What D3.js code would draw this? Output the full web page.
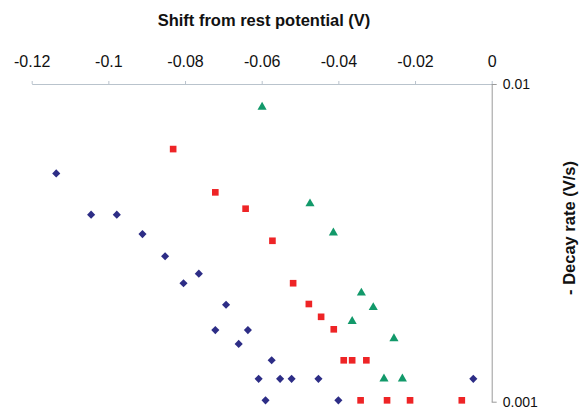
<!DOCTYPE html>
<html><head><meta charset="utf-8">
<script src="https://cdn.jsdelivr.net/npm/d3@7"></script>
<style>body{margin:0;background:#fff}svg{display:block}</style>
</head><body><svg id="c" width="581" height="409"></svg>
<script>
// Series: [shift (V), -decay rate (V/s)]
const blueX = [-0.1136,-0.1045,-0.0978,-0.0911,-0.0852,-0.0764,-0.0804,-0.0693,-0.0721,-0.0636,-0.0660,-0.0574,-0.0608,-0.0552,-0.0522,-0.0452,-0.0590,-0.0400,-0.0048];
const blueY = [0.00523,0.00388,0.00388,0.00337,0.00287,0.00253,0.00236,0.00202,0.00168,0.00168,0.00152,0.00135,0.00118,0.00118,0.00118,0.00118,0.00101,0.00101,0.00118];
const redX = [-0.0831,-0.0721,-0.0642,-0.0572,-0.0518,-0.0477,-0.0445,-0.0412,-0.0386,-0.0364,-0.0327,-0.0342,-0.0273,-0.0213,-0.0078];
const redY = [0.00624,0.00456,0.00405,0.00321,0.00236,0.00203,0.00185,0.00169,0.00135,0.00135,0.00135,0.00101,0.00101,0.00101,0.00101];
const greenX = [-0.0599,-0.0474,-0.0413,-0.0340,-0.0309,-0.0364,-0.0255,-0.0281,-0.0233];
const greenY = [0.00846,0.00420,0.00340,0.00220,0.00198,0.00179,0.00158,0.00118,0.00118];
const xTicks = [-0.12,-0.1,-0.08,-0.06,-0.04,-0.02,0];
const yTicks = [0.01,0.001];
const xTitle = "Shift from rest potential (V)";
const yTitle = "- Decay rate (V/s)";

const FONT = "Liberation Sans, Arial, sans-serif";
const svg = d3.select("#c");
const x = d3.scaleLinear().domain([-0.12,0]).range([31.7,491.7]);
const y = d3.scaleLog().domain([0.001,0.01]).range([401.7,84]);

// x axis on top
const xa = svg.append("g").attr("transform","translate(0,84)")
  .call(d3.axisTop(x).tickValues(xTicks).tickFormat(d=>String(+d.toFixed(2))).tickSize(3).tickSizeOuter(0));
xa.select(".domain").attr("stroke","#b9c3cc");
xa.selectAll(".tick line").attr("stroke","#b9c3cc");
xa.selectAll(".tick text").attr("font-family",FONT).attr("font-size","16px").attr("fill","#111").attr("y",-17).attr("dy","0");

// y axis on right
const ya = svg.append("g").attr("transform","translate(491.7,0)")
  .call(d3.axisRight(y).tickValues(yTicks).tickFormat(d=>String(d)).tickSize(5).tickSizeOuter(0));
ya.select(".domain").attr("stroke","#9a9a9a");
ya.selectAll(".tick line").attr("stroke","#9a9a9a");
ya.selectAll(".tick text").attr("font-family",FONT).attr("font-size","14px").attr("fill","#111").attr("x",11).attr("dy","0.32em");

svg.append("text").attr("x",264).attr("y",26).attr("text-anchor","middle")
  .attr("font-family",FONT).attr("font-weight","bold").attr("font-size","16.5px").attr("fill","#111").text(xTitle);
svg.append("text").attr("transform","translate(569,228) rotate(-90)").attr("text-anchor","middle").attr("dy","0.35em")
  .attr("font-family",FONT).attr("font-weight","bold").attr("font-size","16.5px").attr("fill","#111").text(yTitle);

function plot(xs, ys, sym, size, color){
  svg.append("g").selectAll("path").data(xs.map((v,i)=>[v,ys[i]])).join("path")
    .attr("transform",d=>`translate(${x(d[0])},${y(d[1])})`)
    .attr("d",d3.symbol().type(sym).size(size)).attr("fill",color);
}
plot(blueX, blueY, d3.symbolDiamond2 || d3.symbolDiamond, 42, "#2d2d86");
plot(redX, redY, d3.symbolSquare, 44, "#ee2426");
plot(greenX, greenY, d3.symbolTriangle, 36, "#12996a");
</script></body></html>
